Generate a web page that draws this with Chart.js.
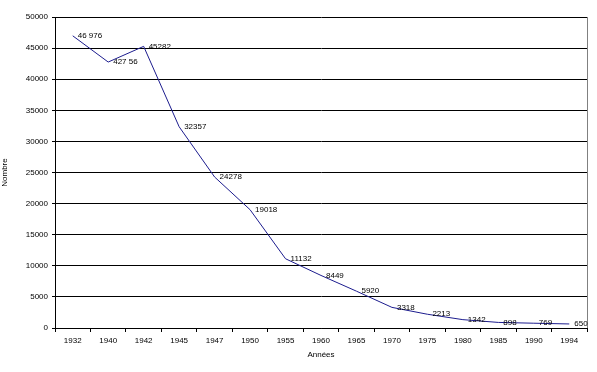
<!DOCTYPE html>
<html><head><meta charset="utf-8">
<script src="https://cdn.jsdelivr.net/npm/chart.js@4/dist/chart.umd.min.js"></script>
<style>html,body{margin:0;padding:0;background:#fff}canvas{display:block}</style>
</head><body>
<canvas id="c" width="597" height="372"></canvas>
<script>
const categories = ['1932','1940','1942','1945','1947','1950','1955','1960','1965','1970','1975','1980','1985','1990','1994'];
const values = [46976, 42756, 45282, 32357, 24278, 19018, 11132, 8449, 5920, 3318, 2213, 1342, 898, 769, 650];
const valueLabels = ['46 976','427 56','45282','32357','24278','19018','11132','8449','5920','3318','2213','1342','898','769','650'];
const FONT = '"Liberation Sans", Arial, sans-serif';

const extras = {
  id: 'extras',
  afterDatasetsDraw(chart) {
    const ctx = chart.ctx, a = chart.chartArea;
    ctx.save();
    ctx.strokeStyle = '#808080'; ctx.lineWidth = 1;
    ctx.beginPath(); ctx.moveTo(a.right + 0.5, a.top); ctx.lineTo(a.right + 0.5, a.bottom); ctx.stroke();
    const meta = chart.getDatasetMeta(0);
    ctx.fillStyle = '#000'; ctx.font = '8px ' + FONT;
    ctx.textAlign = 'left'; ctx.textBaseline = 'middle';
    meta.data.forEach((p, i) => { ctx.fillText(valueLabels[i], p.x + 5, p.y); });
    ctx.restore();
  }
};

new Chart(document.getElementById('c'), {
  type: 'line',
  data: { labels: categories, datasets: [{ data: values, borderColor: '#1c1c8e', borderWidth: 1, pointRadius: 0, tension: 0, fill: false }] },
  options: {
    responsive: false, animation: false,
    layout: { padding: { left: 0, top: 17, right: 10, bottom: 12 } },
    plugins: { legend: { display: false }, tooltip: { enabled: false } },
    scales: {
      x: {
        offset: true,
        afterFit(s) { s.height = 32; },
        grid: { offset: true, drawOnChartArea: false, drawTicks: true, tickLength: 4, color: '#000' },
        border: { color: '#000', width: 1 },
        ticks: { color: '#000', font: { family: FONT, size: 8 }, padding: 4, maxRotation: 0, autoSkip: false },
        title: { display: true, text: 'Années', color: '#000', font: { family: FONT, size: 8 }, padding: { top: 4, bottom: 0 } }
      },
      y: {
        min: 0, max: 50000,
        afterFit(s) { s.width = 55; },
        grid: { color: '#000', lineWidth: 1, tickLength: 3 },
        border: { color: '#000', width: 1 },
        ticks: { stepSize: 5000, color: '#000', font: { family: FONT, size: 8 }, padding: 4, callback: v => String(v) },
        title: { display: true, text: 'Nombre', color: '#000', font: { family: FONT, size: 8 }, padding: { top: 0, bottom: 4 } }
      }
    }
  },
  plugins: [extras]
});
</script>
</body></html>
